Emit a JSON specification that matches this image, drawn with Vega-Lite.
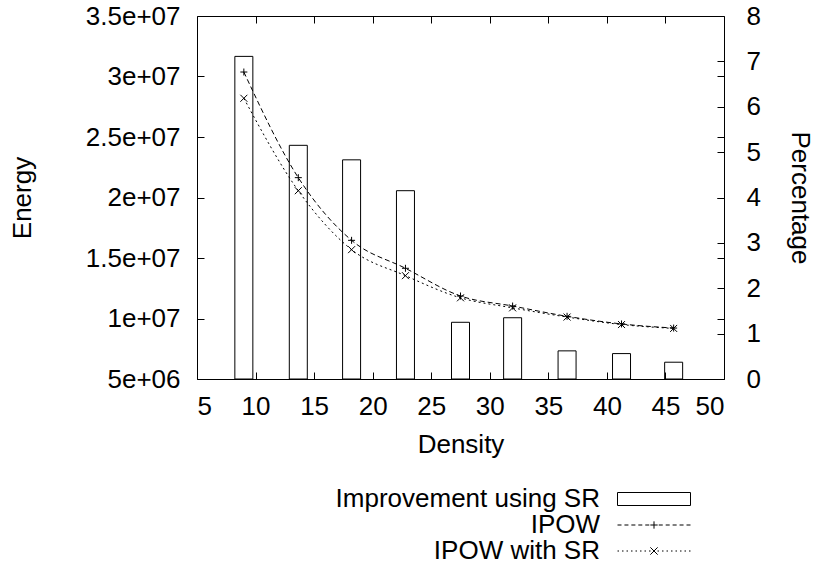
{
  "$schema": "https://vega.github.io/schema/vega-lite/v6.json",
  "autosize": {"type": "none"},
  "padding": {"left": 197, "top": 16, "right": 91, "bottom": 185},
  "width": 527,
  "height": 363,
  "background": "white",
  "config": {
    "view": {"stroke": null},
    "font": "Liberation Sans",
    "axis": {
      "grid": false,
      "domainColor": "black",
      "domainWidth": 1,
      "tickColor": "black",
      "tickSize": -7,
      "labelFont": "Liberation Sans",
      "labelFontSize": 26,
      "labelColor": "black",
      "titleFont": "Liberation Sans",
      "titleFontSize": 26,
      "titleFontWeight": "normal",
      "titleColor": "black"
    },
    "legend": {
      "labelFont": "Liberation Sans",
      "labelFontSize": 26,
      "labelColor": "black"
    }
  },
  "datasets": {
    "bars": [
      {"density": 9.0, "improvement": 7.11},
      {"density": 13.65, "improvement": 5.15},
      {"density": 18.2, "improvement": 4.83},
      {"density": 22.8, "improvement": 4.15},
      {"density": 27.5, "improvement": 1.25},
      {"density": 31.95, "improvement": 1.35},
      {"density": 36.6, "improvement": 0.62},
      {"density": 41.25, "improvement": 0.56},
      {"density": 45.7, "improvement": 0.37}
    ],
    "energy": [
      {"density": 9.0, "series": "IPOW", "energy": 30370000},
      {"density": 13.65, "series": "IPOW", "energy": 21640000},
      {"density": 18.2, "series": "IPOW", "energy": 16460000},
      {"density": 22.8, "series": "IPOW", "energy": 14150000},
      {"density": 27.5, "series": "IPOW", "energy": 11860000},
      {"density": 31.95, "series": "IPOW", "energy": 11030000},
      {"density": 36.6, "series": "IPOW", "energy": 10180000},
      {"density": 41.25, "series": "IPOW", "energy": 9550000},
      {"density": 45.7, "series": "IPOW", "energy": 9210000},
      {"density": 9.0, "series": "IPOW with SR", "energy": 28200000},
      {"density": 13.65, "series": "IPOW with SR", "energy": 20560000},
      {"density": 18.2, "series": "IPOW with SR", "energy": 15690000},
      {"density": 22.8, "series": "IPOW with SR", "energy": 13540000},
      {"density": 27.5, "series": "IPOW with SR", "energy": 11710000},
      {"density": 31.95, "series": "IPOW with SR", "energy": 10880000},
      {"density": 36.6, "series": "IPOW with SR", "energy": 10120000},
      {"density": 41.25, "series": "IPOW with SR", "energy": 9500000},
      {"density": 45.7, "series": "IPOW with SR", "energy": 9180000}
    ]
  },
  "layer": [
    {
      "data": {"name": "bars"},
      "mark": {"type": "bar", "size": 18, "fill": "white", "fillOpacity": 0, "stroke": "black", "strokeWidth": 1},
      "encoding": {
        "x": {
          "field": "density", "type": "quantitative",
          "scale": {"domain": [5, 50], "nice": false, "zero": false, "padding": 0},
          "axis": {"orient": "bottom", "values": [5,10,15,20,25,30,35,40,45,50], "title": "Density", "labelPadding": 21, "titlePadding": 12}
        },
        "y": {
          "field": "improvement", "type": "quantitative",
          "scale": {"domain": [0, 8], "nice": false},
          "axis": {"orient": "right", "values": [0,1,2,3,4,5,6,7,8], "title": "Percentage", "labelPadding": 29, "titlePadding": 26}
        }
      }
    },
    {
      "data": {"name": "energy"},
      "mark": {"type": "line", "interpolate": "monotone", "color": "black", "strokeWidth": 1},
      "encoding": {
        "x": {"field": "density", "type": "quantitative", "axis": null},
        "y": {
          "field": "energy", "type": "quantitative",
          "scale": {"domain": [5000000, 35000000], "nice": false, "zero": false},
          "axis": {
            "orient": "left",
            "values": [5000000, 10000000, 15000000, 20000000, 25000000, 30000000, 35000000],
            "labelExpr": "datum.value < 10000000 ? format(datum.value / 1000000, '') + 'e+06' : format(datum.value / 10000000, '') + 'e+07'",
            "title": "Energy", "labelPadding": 24, "titlePadding": 50
          }
        },
        "strokeDash": {
          "field": "series", "type": "nominal",
          "scale": {"domain": ["IPOW", "IPOW with SR"], "range": [[5, 3], [2, 3]]},
          "legend": null
        }
      }
    },
    {
      "data": {"name": "energy"},
      "mark": {"type": "point", "filled": false, "size": 49, "color": "black", "strokeWidth": 1, "opacity": 1},
      "encoding": {
        "x": {
          "field": "density", "type": "quantitative",
          "axis": {"orient": "top", "values": [10,15,20,25,30,35,40,45], "labels": false, "title": null, "domain": true}
        },
        "y": {
          "field": "energy", "type": "quantitative",
          "scale": {"domain": [5000000, 35000000], "nice": false, "zero": false},
          "axis": {"orient": "right", "values": [10000000, 15000000, 20000000, 25000000, 30000000], "labels": false, "title": null, "domain": false}
        },
        "shape": {
          "field": "series", "type": "nominal",
          "scale": {
            "domain": ["IPOW", "IPOW with SR"],
            "range": ["M-1,0H1M0,-1V1", "M-1,-1L1,1M-1,1L1,-1"]
          },
          "legend": null
        }
      }
    },
    {
      "data": {"name": "energy"},
      "mark": {"type": "point", "filled": false, "color": "black", "opacity": 0},
      "encoding": {
        "x": {"field": "density", "type": "quantitative", "axis": null},
        "y": {
          "field": "energy", "type": "quantitative",
          "scale": {"domain": [5000000, 35000000], "nice": false, "zero": false},
          "axis": null
        },
        "shape": {
          "field": "series", "type": "nominal",
          "scale": {
            "domain": ["Improvement using SR", "IPOW", "IPOW with SR"],
            "range": [
              "M-7.3,-1.3H7.3V1.3H-7.3Z",
              "M-7.3,0H-6.5M-5.91,0H-5.11M-4.53,0H-3.72M-3.14,0H-2.34M-1.75,0H-0.95M0.95,0H1.75M2.34,0H3.14M3.72,0H4.53M5.11,0H5.91M6.5,0H7.3M-0.73,0H0.73M0,-0.73V0.73",
              "M-7.3,0H-7M-6.4,0H-6.1M-5.5,0H-5.2M-4.6,0H-4.3M-3.7,0H-3.4M-2.8,0H-2.5M-1.9,0H-1.6M-1,0H-0.7M0.7,0H1M1.6,0H1.9M2.5,0H2.8M3.4,0H3.7M4.3,0H4.6M5.2,0H5.5M6.1,0H6.4M7,0H7.3M-0.73,-0.73L0.73,0.73M-0.73,0.73L0.73,-0.73"
            ]
          },
          "legend": {
            "title": null,
            "orient": "none",
            "legendX": 444,
            "legendY": 470,
            "padding": 0,
            "rowPadding": 0,
            "symbolSize": 100,
            "symbolOpacity": 1,
            "symbolStrokeColor": "black",
            "symbolFillColor": "transparent",
            "symbolStrokeWidth": 1,
            "labelAlign": "right",
            "labelOffset": -67,
            "labelLimit": 0
          }
        }
      }
    }
  ],
  "resolve": {
    "scale": {"y": "independent", "shape": "independent"},
    "axis": {"x": "independent", "y": "independent"}
  }
}
